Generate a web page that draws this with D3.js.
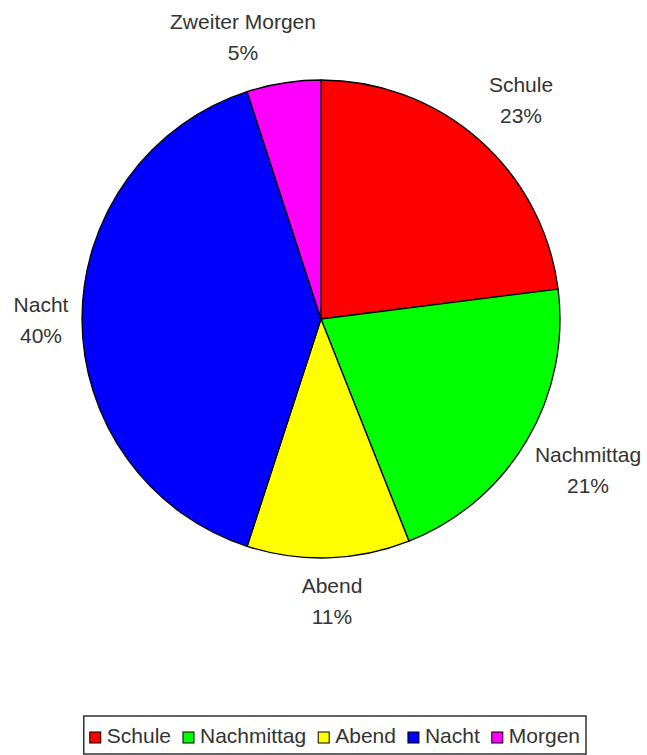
<!DOCTYPE html>
<html>
<head>
<meta charset="utf-8">
<script src="https://cdn.jsdelivr.net/npm/d3@7/dist/d3.min.js"></script>
<style>
  html, body { margin: 0; padding: 0; background: #ffffff; }
  svg { display: block; }
  text { font-family: "Liberation Sans", Arial, sans-serif; fill: #333333; }
</style>
</head>
<body>
<svg id="chart" width="647" height="755"></svg>
<script>
// Slice names, labels and shares (percent)
const categories = ["Schule", "Nachmittag", "Abend", "Nacht", "Morgen"];
const sliceLabels = ["Schule", "Nachmittag", "Abend", "Nacht", "Zweiter Morgen"];
const values = [23, 21, 11, 40, 5];
const colors = ["#ff0000", "#00ff00", "#ffff00", "#0000ff", "#ff00ff"];

// Label anchor points (centre x, first-line baseline y)
const labelPos = [[521, 92], [588, 462], [332, 593], [41, 312], [243, 29]];

const svg = d3.select("#chart");
const cx = 321, cy = 319, r = 239;

const data = categories.map((c, i) => ({ name: c, label: sliceLabels[i], value: values[i], color: colors[i], pos: labelPos[i] }));

const pie = d3.pie().sort(null).value(d => d.value).startAngle(0).endAngle(2 * Math.PI);
const arc = d3.arc().innerRadius(0).outerRadius(r);

const g = svg.append("g").attr("transform", `translate(${cx},${cy})`);
g.selectAll("path.slice")
  .data(pie(data))
  .join("path")
  .attr("class", "slice")
  .attr("d", arc)
  .attr("fill", d => d.data.color)
  .attr("stroke", "#000")
  .attr("stroke-width", 1.3)
  .attr("stroke-linejoin", "round");

// Slice labels: name on the first line, percentage below
const fmt = d3.format(".0%");
const labels = svg.selectAll("text.lbl")
  .data(data)
  .join("text")
  .attr("class", "lbl")
  .attr("text-anchor", "middle")
  .attr("font-size", 21);
labels.append("tspan")
  .attr("x", d => d.pos[0])
  .attr("y", d => d.pos[1])
  .text(d => d.label);
labels.append("tspan")
  .attr("x", d => d.pos[0])
  .attr("y", d => d.pos[1] + 31)
  .text(d => fmt(d.value / d3.sum(values)));

// Legend row with a framed box
const legend = svg.append("g").attr("class", "legend");
const sw = 11, gapIn = 6, gapOut = 12, pad = 6;
const items = legend.selectAll("g.item").data(data).join("g").attr("class", "item");
items.append("rect")
  .attr("width", sw).attr("height", sw)
  .attr("y", 732)
  .attr("fill", d => d.color)
  .attr("stroke", "#000").attr("stroke-width", 1);
items.append("text")
  .attr("font-size", 21)
  .attr("y", 743)
  .text(d => d.name);

const widths = [];
items.select("text").each(function () { widths.push(this.getComputedTextLength()); });
const total = d3.sum(widths) + data.length * (sw + gapIn) + (data.length - 1) * gapOut;
const boxRight = 586;
const boxLeft = boxRight - total - 2 * pad;
let x = boxLeft + pad;
items.each(function (d, i) {
  const it = d3.select(this);
  it.select("rect").attr("x", x);
  it.select("text").attr("x", x + sw + gapIn);
  x += sw + gapIn + widths[i] + gapOut;
});
legend.insert("rect", ":first-child")
  .attr("x", boxLeft).attr("y", 716)
  .attr("width", boxRight - boxLeft).attr("height", 38)
  .attr("fill", "#fff").attr("stroke", "#333").attr("stroke-width", 1.5);
</script>
</body>
</html>
